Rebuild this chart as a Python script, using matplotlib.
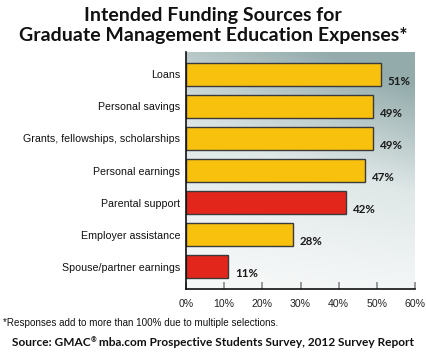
import numpy as np
import matplotlib
matplotlib.use("Agg")
import matplotlib.pyplot as plt
from matplotlib.colors import LinearSegmentedColormap
from matplotlib.transforms import offset_copy

categories = ["Loans", "Personal savings", "Grants, fellowships, scholarships",
              "Personal earnings", "Parental support", "Employer assistance",
              "Spouse/partner earnings"]
values = [51, 49, 49, 47, 42, 28, 11]
highlight = [False, False, False, False, True, False, True]
xticks = [0, 10, 20, 30, 40, 50, 60]
xticklabels = ["0%", "10%", "20%", "30%", "40%", "50%", "60%"]

YELLOW = "#f8c10e"
RED = "#e2261b"

fig = plt.figure(figsize=(4.26, 3.52), dpi=100)
W, H = 426, 352
ax = fig.add_axes([186 / W, 1 - 289 / H, (415 - 186) / W, (289 - 52) / H])

n = len(categories)
y = np.arange(n)

# background gradient
gx = np.linspace(0, 1, 200)
gy = np.linspace(0, 1, 200)
GX, GY = np.meshgrid(gx, gy)
T = np.clip(0.8 * GY + 0.3 * GX * GY + 0.1 * GX - 0.05, 0, 1)
cmap = LinearSegmentedColormap.from_list("bg", ["#f6f8f8", "#dfe7e7", "#93abab"])
ax.imshow(T, extent=[0, 60, n - 0.5 + 0.2, -0.5 - 0.2], origin="lower",
          cmap=cmap, aspect="auto", zorder=0, vmin=0, vmax=1)

colors = [RED if h else YELLOW for h in highlight]
ax.barh(y, values, height=0.73, color=colors, edgecolor="#3a3a3a",
        linewidth=1.0, zorder=2)

for yi, v in zip(y, values):
    ax.text(v + 1.8, yi + 0.22, f"{v}%", ha="left", va="center",
            fontsize=8.3, fontweight="bold", family="Lato", color="#1a1a1a",
            zorder=3)

ax.set_xlim(0, 60)
ax.set_ylim(n - 0.5 + 0.2, -0.5 - 0.2)
ax.set_yticks(y)
ax.set_yticklabels(categories, family="Liberation Sans", fontsize=7.65,
                   color="#111111")
ax.set_xticks(xticks)
ax.set_xticklabels(xticklabels, family="Liberation Sans", fontsize=7.6,
                   color="#222222")
ax.tick_params(axis="y", length=0, pad=4)
ax.tick_params(axis="x", direction="in", length=5, width=1.2, color="#888888",
               pad=7)
for s in ["top", "right"]:
    ax.spines[s].set_visible(False)
ax.spines["left"].set_color("#111111")
ax.spines["bottom"].set_color("#111111")
ax.spines["left"].set_linewidth(1.2)
ax.spines["bottom"].set_linewidth(1.2)

fig.text(0.5, 1 - 15 / H, "Intended Funding Sources for", ha="center",
         va="center", fontsize=14, fontweight="bold", family="Lato",
         color="#111111")
fig.text(0.5, 1 - 36 / H, "Graduate Management Education Expenses*",
         ha="center", va="center", fontsize=14, fontweight="bold",
         family="Lato", color="#111111")
fig.text(3 / W, 1 - 323 / H,
         "*Responses add to more than 100% due to multiple selections.",
         ha="left", va="center", fontsize=7.1, family="Liberation Sans",
         color="#111111")

# source line with small superscript registered mark
fig.canvas.draw()
r = fig.canvas.get_renderer()
src_kw = dict(fontsize=8.6, fontweight="bold", family="Lato", color="#111111",
              va="baseline", ha="left")
parts = ["Source: GMAC", "\u00ae", " mba.com Prospective Students Survey, 2012 Survey Report"]
tmp = [fig.text(0, 0, parts[0], **src_kw),
       fig.text(0, 0, parts[1], **{**src_kw, "fontsize": 5}),
       fig.text(0, 0, parts[2], **src_kw)]
widths = [t.get_window_extent(r).width for t in tmp]
for t in tmp:
    t.remove()
total = sum(widths)
x0 = (W - total) / 2
base = H - 346
fig.text(x0 / W, base / H, parts[0], **src_kw)
fig.text((x0 + widths[0]) / W, (base + 4) / H, parts[1], **{**src_kw, "fontsize": 5})
fig.text((x0 + widths[0] + widths[1]) / W, base / H, parts[2], **src_kw)

fig.savefig("out.png", dpi=100)
